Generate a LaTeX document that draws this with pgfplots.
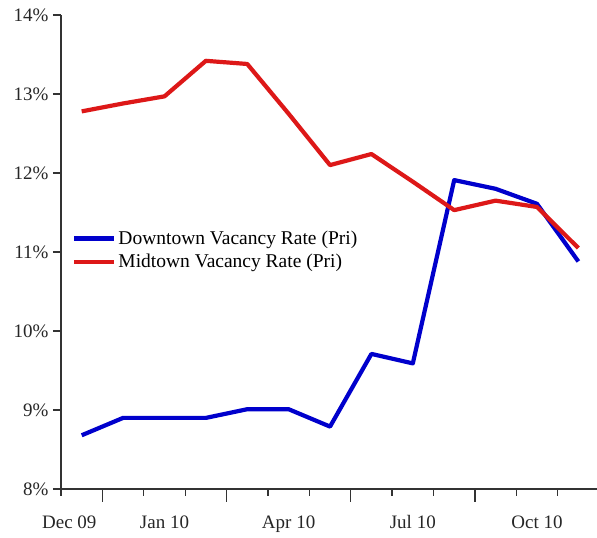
\documentclass[border=0pt]{standalone}
\usepackage{fontspec}
\setmainfont{Liberation Serif}
\usepackage{pgfplots}
\pgfplotsset{compat=1.18}

\definecolor{dtblue}{RGB}{0,0,204}
\definecolor{mtred}{RGB}{221,24,24}

\begin{document}
\begin{tikzpicture}
\begin{axis}[
    scale only axis,
    width=536pt, height=474pt,
    xmin=-0.5, xmax=12.45,
    ymin=8, ymax=14,
    axis lines=left,
    axis line style={-, line width=1.3pt, draw=black!80},
    tick align=outside,
    tick style={line width=1.3pt, draw=black!80},
    major tick length=0pt,
    minor tick length=7pt,
    xtick={-0.3,2,5,8,11},
    xticklabels={Dec 09, Jan 10, Apr 10, Jul 10, Oct 10},
    minor xtick={-0.5,0.5,...,12.5},
    extra x ticks={0.5,3.5,6.5,9.5},
    extra x tick labels={},
    extra x tick style={major tick length=13pt},
    ytick=\empty,
    extra y ticks={8,9,10,11,12,13,14},
    extra y tick labels={8\%,9\%,10\%,11\%,12\%,13\%,14\%},
    extra y tick style={major tick length=8pt},
    tick label style={font=\fontsize{19}{22}\selectfont, text=black!85},
    xticklabel style={yshift=-23pt},
    yticklabel style={xshift=-1pt},
    clip=false,
    legend style={draw=none, fill=none, at={(0.015,0.553)}, anchor=north west,
        font=\fontsize{19.5}{22}\selectfont, row sep=4pt,
        legend cell align=left},
    legend image code/.code={\draw[#1] (0pt,0pt) -- (40pt,0pt);},
]
\addplot[dtblue, line width=4.2pt, line join=round] coordinates {
    (0,8.68) (1,8.90) (2,8.90) (3,8.90) (4,9.01) (5,9.01) (6,8.79)
    (7,9.71) (8,9.59) (9,11.91) (10,11.80) (11,11.61) (12,10.88)
};
\addlegendentry{Downtown Vacancy Rate (Pri)}
\addplot[mtred, line width=4.2pt, line join=round] coordinates {
    (0,12.78) (1,12.88) (2,12.97) (3,13.42) (4,13.38) (5,12.75) (6,12.10)
    (7,12.24) (8,11.89) (9,11.53) (10,11.65) (11,11.57) (12,11.05)
};
\addlegendentry{Midtown Vacancy Rate (Pri)}
\end{axis}
\pgfresetboundingbox
\path (current axis.south west) ++(-61pt,-49pt) coordinate (bbsw);
\path (bbsw) rectangle ++(597pt,538pt);
\end{tikzpicture}
\end{document}
